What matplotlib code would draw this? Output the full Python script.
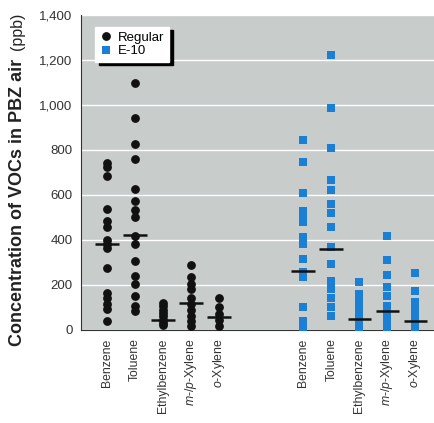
import matplotlib
matplotlib.use('Agg')
import matplotlib.pyplot as plt

# chemical names (same for both fuels)
compounds = ['Benzene', 'Toluene', 'Ethylbenzene', '$m$-/$p$-Xylene', '$o$-Xylene']

# regular gasoline samples (ppb)
reg_benzene = [743, 724, 684, 538, 486, 457, 400, 380, 364, 273, 166, 140, 115, 92, 40]
reg_toluene = [1095, 942, 828, 761, 627, 571, 534, 501, 419, 382, 308, 241, 206, 149, 107, 85]
reg_ethyl = [120, 105, 90, 75, 60, 45, 30, 20]
reg_mpxyl = [288, 233, 206, 181, 144, 115, 88, 62, 40, 18]
reg_oxyl = [140, 100, 70, 45, 18]
reg_center = [380, 422, 45, 118, 58]

# E-10 samples (ppb)
e10_benzene = [846, 745, 608, 530, 505, 480, 412, 380, 315, 258, 235, 104, 38, 15]
e10_toluene = [1222, 987, 808, 664, 623, 560, 520, 456, 367, 293, 218, 180, 140, 100, 60]
e10_ethyl = [211, 160, 130, 100, 70, 40, 10]
e10_mpxyl = [419, 311, 245, 192, 152, 107, 75, 45, 15]
e10_oxyl = [255, 171, 125, 95, 65, 35, 10]
e10_center = [262, 358, 50, 85, 40]

reg_pos = [0, 1, 2, 3, 4]
e10_pos = [7, 8, 9, 10, 11]

plt.rcParams['font.family'] = ['Liberation Sans', 'DejaVu Sans']
plt.rcParams['mathtext.fontset'] = 'custom'
plt.rcParams['mathtext.it'] = 'Liberation Sans:italic'
plt.rcParams['mathtext.rm'] = 'Liberation Sans'

fig = plt.figure(figsize=(4.35, 4.23), dpi=100)
ax = fig.add_axes([0.186, 0.220, 0.814, 0.745])
ax.set_facecolor('#c8cccb')

blue = '#1b7fd6'
reg_data = [reg_benzene, reg_toluene, reg_ethyl, reg_mpxyl, reg_oxyl]
e10_data = [e10_benzene, e10_toluene, e10_ethyl, e10_mpxyl, e10_oxyl]

for i, vals in enumerate(reg_data):
    ax.plot([reg_pos[i]] * len(vals), vals, 'o', color='#111111', ms=5.3,
            label='Regular' if i == 0 else None, zorder=3)
for i, vals in enumerate(e10_data):
    ax.plot([e10_pos[i]] * len(vals), vals, 's', color=blue, ms=5.6, mew=0,
            label='E-10' if i == 0 else None, zorder=3)

# center lines
for p, c in zip(reg_pos, reg_center):
    ax.hlines(c, p - 0.42, p + 0.42, color='#111111', lw=1.8, zorder=4)
for p, c in zip(e10_pos, e10_center):
    ax.hlines(c, p - 0.42, p + 0.42, color='#111111', lw=1.8, zorder=4)

ax.set_xlim(-0.93, 11.7)
ax.set_ylim(0, 1400)
ax.set_yticks(range(0, 1401, 200))
ax.set_yticklabels([f'{v:,}' for v in range(0, 1401, 200)], fontsize=9.5, color='#333333')
ax.set_xticks(reg_pos + e10_pos)
ax.set_xticklabels(compounds + compounds, rotation=90, fontsize=8.8, color='#333333')
ax.tick_params(length=0, pad=6)
ax.yaxis.grid(True, color='white', lw=1)
ax.set_axisbelow(True)
for s in ['top', 'right']:
    ax.spines[s].set_visible(False)
ax.spines['left'].set_color('#333333')
ax.spines['bottom'].set_color('#333333')

leg = ax.legend(loc='upper left', bbox_to_anchor=(0.04, 0.962), fontsize=9.5,
                frameon=True, fancybox=False, edgecolor='white', framealpha=1,
                shadow={'color': 'black', 'alpha': 1, 'ox': 2.5, 'oy': -2.5},
                handletextpad=0.4, borderpad=0.35, labelspacing=0.1, handlelength=1.0,
                borderaxespad=0)

fig.text(0.040, 1 - 346 / 423, 'Concentration of VOCs in PBZ air', rotation=90,
         ha='center', va='bottom', fontsize=13, fontweight='bold', color='#222222')
fig.text(0.040, 1 - 13 / 423, '(ppb)', rotation=90, ha='center', va='top',
         fontsize=11.5, color='#222222')

plt.savefig('out.png', dpi=100)
